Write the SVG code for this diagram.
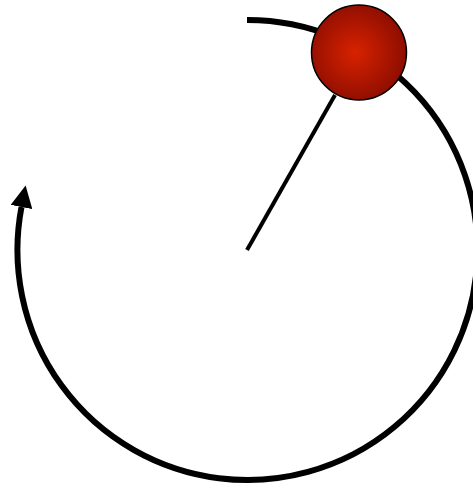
<svg xmlns="http://www.w3.org/2000/svg" width="473" height="484" viewBox="0 0 473 484">
  <style>
    .orbit { fill: none; stroke: #000; stroke-width: 6; }
    .rod { stroke: #000; stroke-width: 4; }
    .ball { stroke: #000; stroke-width: 1.5; }
  </style>
  <defs>
    <radialGradient id="ballGrad" cx="0.46" cy="0.5" r="0.55">
      <stop offset="0" stop-color="#d82200"/>
      <stop offset="1" stop-color="#8c0d00"/>
    </radialGradient>
    <marker id="arrow" markerUnits="userSpaceOnUse" markerWidth="22" markerHeight="22" viewBox="0 0 20 20" refX="0" refY="10" orient="auto">
      <path d="M0,0 L20,10 L0,20 Z" fill="#000"/>
    </marker>
  </defs>
  <g id="connectors">
    <path class="orbit" d="M 247 20 A 230 230 0 1 1 21.5 207" marker-end="url(#arrow)"/>
    <line class="rod" x1="247" y1="250" x2="335" y2="95"/>
  </g>
  <g id="ball">
    <circle class="ball" cx="359" cy="52.5" r="47.5" fill="url(#ballGrad)"/>
  </g>
</svg>
